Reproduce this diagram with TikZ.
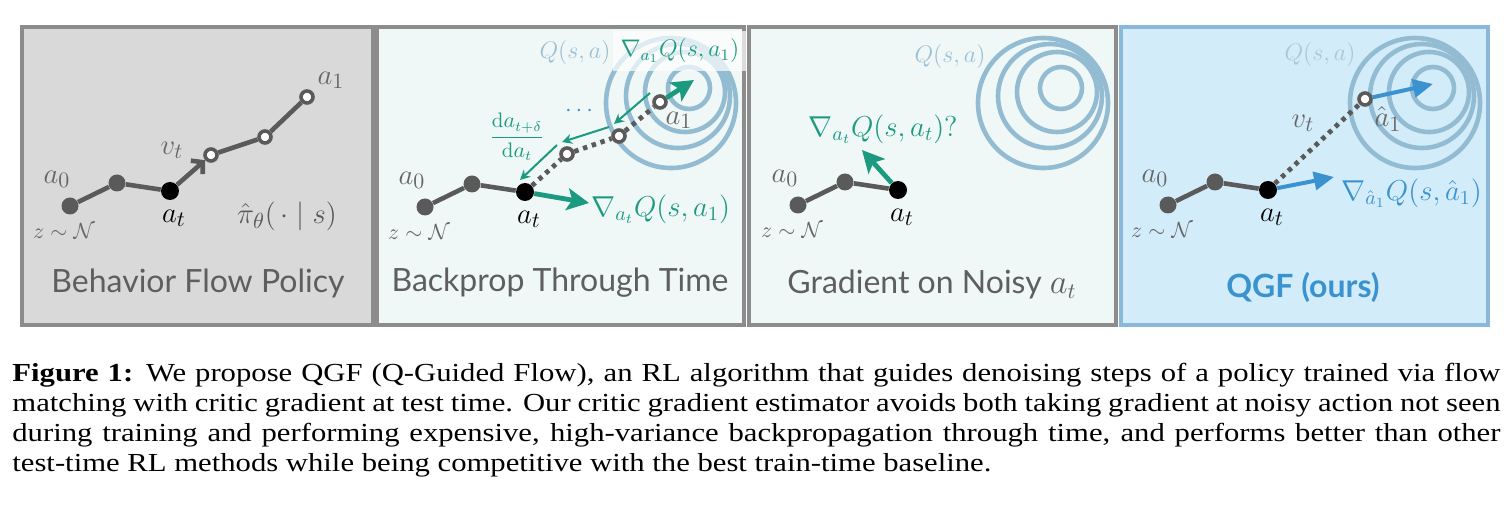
\documentclass[tikz,border=0pt]{standalone}
\usepackage{amsmath}
\usepackage{fontspec}
\setsansfont{Lato}
\newfontfamily\capfont[FakeStretch=1.18]{Liberation Serif}
\usetikzlibrary{arrows.meta}

\definecolor{trajgray}{HTML}{5A5A5A}
\definecolor{labgray}{HTML}{666666}
\definecolor{titlegray}{HTML}{5E5E5E}
\definecolor{panelgray}{HTML}{D9D9D9}
\definecolor{framegray}{HTML}{8C8C8C}
\definecolor{panelmint}{HTML}{EFF8F7}
\definecolor{panelblue}{HTML}{D3ECFA}
\definecolor{frameblue}{HTML}{8BB8D8}
\definecolor{ringblue}{HTML}{93BCD3}
\definecolor{qlabel}{HTML}{9CBFD4}
\definecolor{qlabelhat}{HTML}{A9C7D9}
\definecolor{gradgreen}{HTML}{1C9A80}
\definecolor{qgfblue}{HTML}{3A93CF}

\begin{document}
\begin{tikzpicture}[>=Stealth, x=0.5pt, y=-0.5pt,
  fdot/.style={circle, fill=trajgray, inner sep=0pt, minimum size=8.5pt},
  adot/.style={circle, fill=black, inner sep=0pt, minimum size=9pt},
  odot/.style={circle, draw=trajgray, line width=1.8pt, fill=white, inner sep=0pt, minimum size=6pt},
  traj/.style={trajgray, line width=2.3pt},
  fut/.style={trajgray, line width=2.4pt, dash pattern=on 2.2pt off 2.4pt},
  ring/.style={ringblue, line width=2.3pt},
  lab/.style={inner sep=0pt, font=\fontsize{15}{17}\selectfont},
  glab/.style={lab, text=labgray},
  zlab/.style={inner sep=0pt, text=labgray, font=\fontsize{11}{13}\selectfont},
  qlab/.style={inner sep=0pt, text=qlabel, font=\fontsize{12}{14}\selectfont},
  nlab/.style={inner sep=0pt, font=\fontsize{14}{16}\selectfont},
  grad/.style={gradgreen, line width=2.4pt, -{Stealth[length=11pt, width=11pt, inset=2.5pt]}},
  back/.style={gradgreen, line width=1pt, -{Stealth[length=5pt, width=5pt]}},
  qgf/.style={qgfblue, line width=2pt, -{Triangle[length=10pt, width=9pt]}},
  title/.style={text=titlegray, font=\sffamily\fontsize{16}{19}\selectfont},
  panel/.style={line width=2.2pt}
]
  \useasboundingbox (0,0) rectangle (1511,518);
  \def\u{0.5pt}   % one pixel of the layout

  %================= Panels =================
  \foreach \p/\xa/\xb/\fc/\dc in {1/22/373/panelgray/framegray, 2/377/744/panelmint/framegray,
      3/749/1116/panelmint/framegray, 4/1121/1488/panelblue/frameblue}{
    \draw[panel, draw=\dc, fill=\fc] (\xa,27) rectangle (\xb,325);
  }

  %================= Q(s,a) level sets =================
  \foreach \ox in {375,747,1119}{
    \foreach \dx/\dy/\r in {296/103/65, 303/96/52, 310/92/40, 314/88/21}{
      \draw[ring] (\ox+\dx,\dy) circle[radius=\r*\u];
    }
  }

  %================= Shared start a_0 -> a_t =================
  \foreach \p/\xs/\ys in {1/70/206, 2/425/207, 3/798/205, 4/1168/205}{
    \node[fdot] (p\p-a0) at (\xs,\ys) {};
    \node[fdot] (p\p-m) at (\xs+47,\ys-23) {};
    \node[adot] (p\p-at) at (\xs+100,\ys-15) {};
    \draw[traj] (p\p-a0) -- (p\p-m) -- (p\p-at);
    \node[glab] (p\p-a0l) at (\xs-13,\ys-27) {$a_0$};
    \node[lab] (p\p-atl) at (\xs+104,\ys+12) {$a_t$};
    \node[zlab] (p\p-z) at (\xs-6,\ys+25) {$z\sim\mathcal{N}$};
  }

  %================= Panel 1: behavior flow policy =================
  \node[odot] (p1-o1) at (211,155) {};
  \node[odot] (p1-o2) at (265,137) {};
  \node[odot] (p1-o3) at (307,97) {};
  \draw[traj, -{Straight Barb[length=4pt, width=9pt]}] (p1-at) -- (p1-o1);
  \draw[traj] (p1-o1) -- (p1-o2) -- (p1-o3);
  \node[glab] (p1-vt) at (172,150) {$v_t$};
  \node[glab] (p1-a1) at (331,80) {$a_1$};
  \node[lab, text=trajgray, font=\fontsize{15}{17}\selectfont] (p1-pi) at (287,216) {$\hat{\pi}_\theta(\,\cdot\mid s)$};
  \node[title] (p1-title) at (198,283) {Behavior Flow Policy};

  %================= Panel 2: backprop through time =================
  \node[odot] (p2-o1) at (567,154) {};
  \node[odot] (p2-o2) at (619,136) {};
  \node[odot] (p2-o3) at (660,102) {};
  \draw[fut] (p2-at) -- (p2-o1) -- (p2-o2) -- (p2-o3);
  \coordinate (p2-g1) at (694,80);
  \coordinate (p2-g0) at (589,203);
  \draw[grad] (p2-o3) -- (p2-g1);
  \draw[grad] (p2-at) -- (p2-g0);
  % chain rule steps, back along the path
  \foreach \s/\e in {o3/o2, o2/o1, o1/at}{
    \draw[back] ([shift={(-10,-9)}]p2-\s.center) -- ([shift={(-5,-12)}]p2-\e.center);
  }
  \node[glab] (p2-a1) at (679,120) {$a_1$};
  \node[qlab] (p2-q) at (575,53) {$Q(s,a)$};
  \node[text=gradgreen, fill=white, fill opacity=0.7, text opacity=1, inner xsep=4pt, inner ysep=4pt,
        font=\fontsize{12}{14}\selectfont] (p2-n1) at (680,51) {$\nabla_{a_1}Q(s,a_1)$};
  \node[inner sep=0pt, text=qgfblue, font=\fontsize{12}{14}\selectfont] (p2-dots) at (581,111) {$\cdots$};
  \node[inner sep=0pt, text=gradgreen, font=\fontsize{10.5}{12}\selectfont] (p2-frac) at (517,137)
    {$\dfrac{\mathrm{d}a_{t+\delta}}{\mathrm{d}a_t}$};
  \node[nlab, text=gradgreen, anchor=west] (p2-n0) at (591,209) {$\nabla_{a_t}Q(s,a_1)$};
  \node[title] (p2-title) at (560,283) {Backprop Through Time};

  %================= Panel 3: gradient on noisy a_t =================
  \coordinate (p3-g) at (862,150);
  \draw[grad] (p3-at) -- (p3-g);
  \node[nlab, text=gradgreen] (p3-n) at (883,129) {$\nabla_{a_t}Q(s,a_t)?$};
  \node[qlab] (p3-q) at (950,57) {$Q(s,a)$};
  \node[title] (p3-title) at (932,284) {Gradient on Noisy $a_t$};

  %================= Panel 4: QGF =================
  \node[odot] (p4-o1) at (1365,99) {};
  \draw[fut] (p4-at) -- (p4-o1);
  \coordinate (p4-g1) at (1433,84);
  \coordinate (p4-g0) at (1334,177);
  \draw[qgf] (p4-o1) -- (p4-g1);
  \draw[qgf] (p4-at) -- (p4-g0);
  \node[glab] (p4-vt) at (1303,123) {$v_t$};
  \node[glab] (p4-a1) at (1388,119) {$\hat{a}_1$};
  \node[qlab, text=qlabelhat] (p4-q) at (1320,55) {$Q(s,a)$};
  \node[nlab, text=qgfblue, anchor=west] (p4-n) at (1341,193) {$\nabla_{\hat{a}_1}Q(s,\hat{a}_1)$};
  \node[title, text=qgfblue, font=\sffamily\bfseries\fontsize{16}{19}\selectfont] (p4-title) at (1303,287) {QGF (ours)};

  %================= Caption =================
  \node[anchor=north west, inner sep=0pt, text width=744pt, align=justify,
        font=\capfont\fontsize{13}{15}\selectfont] (cap) at (12,363)
    {\textbf{Figure 1:} We propose QGF (Q-Guided Flow), an RL algorithm that guides denoising steps of a policy trained via flow\linebreak
     matching with critic gradient at test time. Our critic gradient estimator avoids both taking gradient at noisy action not seen\linebreak
     during training and performing expensive, high-variance backpropagation through time, and performs better than other\linebreak
     test-time RL methods while being competitive with the best train-time baseline.};
\end{tikzpicture}
\end{document}
